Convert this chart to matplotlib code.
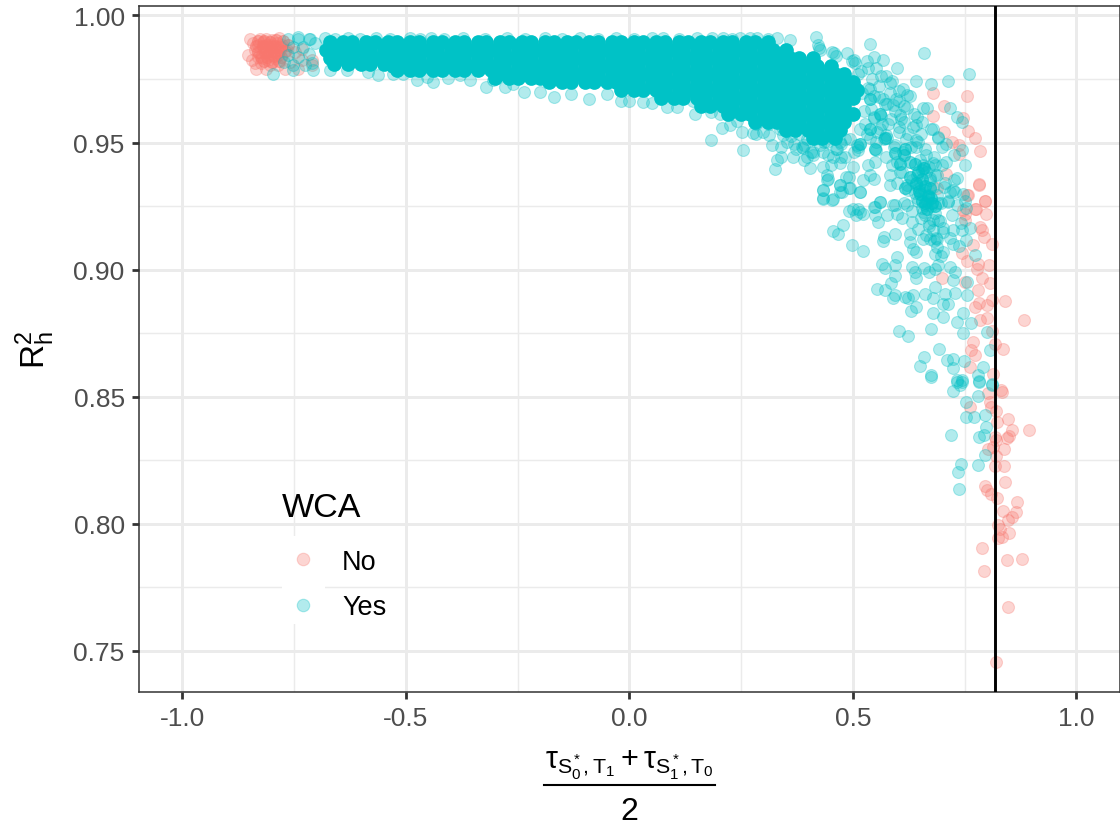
import numpy as np
import matplotlib
matplotlib.use("Agg")
import matplotlib.pyplot as plt
from matplotlib.lines import Line2D
from matplotlib.patches import Rectangle

plt.rcParams['font.family'] = ['Liberation Sans', 'DejaVu Sans']
plt.rcParams['mathtext.fontset'] = 'custom'
plt.rcParams['mathtext.rm'] = 'Liberation Sans'
plt.rcParams['mathtext.it'] = 'Liberation Sans'
plt.rcParams['axes.unicode_minus'] = False

# WCA = No
no_x = [.833, .801, .807, .808, .762, .820, .846, .823, .855, .893, .850, .844, .818, .821, .814, .803, .838, .821, .838, .818,
        .839, .795, .799, .808, .823, .868, .864, .836, .856, .846, .825, .829, .848, .833, .825, .789, .844, .877, .794, .846, .819,
        .783, .795, .797, .756, .775, .751, .751, .784, .788, .793, .810, .769, .743, .754, .779, .805, .777, .698, .788,
        .806, .751, .780, .810, .840, .799, .783, .773, .799, .784, .883, .810, .818, .835, .769, .765, .773, .762, .814, .832,
        .680, .704, .754, .680, .704, .745, .758, .773, .721, .738, .737, .784, .708, .687, .783, .758, .795, .773, .747,
        -.849, -.853, -.843, -.845, -.838, -.836, -.813, -.827, -.813, -.783, -.830, -.819, -.804, -.789, -.778, -.827, -.812, -.797,
        -.782, -.823, -.808, -.793, -.819, -.800, -.830, -.838, -.812, -.797, -.786, -.767, -.748, -.733, -.804, -.786, -.760, -.741,
        -.711, -.733, -.711, -.771, -.806, -.825]
no_y = [.8519, .8512, .8479, .8459, .8459, .8444, .8411, .8400, .8370, .8368, .8345, .8337, .8341, .8328, .8302, .8293, .8293, .8267, .8227, .8225,
        .8164, .8148, .8134, .8118, .8101, .8085, .8046, .8049, .8026, .8013, .7994, .7980, .7961, .7948, .7944, .7903, .7857, .7862, .7812, .7672, .7455,
        .9334, .9269, .9220, .9295, .9237, .9220, .9194, .9168, .9155, .9128, .9102, .9096, .9067, .9033, .9023, .9017, .9001, .8968, .8967,
        .8945, .8951, .8918, .8879, .8875, .8859, .8870, .8853, .8809, .8800, .8803, .8757, .8708, .8686, .8715, .8682, .8662, .8617, .8588, .8525,
        .9693, .9645, .9683, .9605, .9540, .9595, .9546, .9519, .9503, .9492, .9453, .9466, .9376, .9322, .9335, .9293, .9269, .9240, .9234,
        .9907, .9846, .9890, .9824, .9811, .9791, .9791, .9909, .9909, .9912, .9883, .9876, .9883, .9890, .9883, .9857, .9857, .9857,
        .9863, .9831, .9824, .9831, .9896, .9903, .9837, .9863, .9883, .9876, .9844, .9863, .9857, .9870, .9804, .9804, .9817, .9791,
        .9824, .9824, .9804, .9791, .9844, .9811]
no_core_x = [-.832, -.818, -.804, -.790, -.776, -.835, -.821, -.807, -.793, -.779, -.765, -.832, -.816, -.801, -.786, -.771,
             -.825, -.810, -.795, -.780, -.818, -.800, -.785]
no_core_y = [.9898, .9901, .9897, .9902, .9899, .9878, .9881, .9876, .9880, .9877, .9882, .9858, .9855, .9860, .9856, .9859,
             .9838, .9835, .9840, .9836, .9820, .9818, .9822]

# WCA = Yes, the points that can be told apart
yes_x = [.434, .434, .452, .441, .471, .475, .493, .516, .490, .507, .516, .523, .478, .456, .467, .498, .523, .557, .549, .549,
         .560, .575, .594, .598, .609, .620, .631, .646, .657, .680, .594, .569, .568, .628, .628, .635, .641, .657, .672, .687,
         .702, .724, .743, .687, .724, .753, .683, .702, .691, .717, .728, .773, .564, .572, .598, .594, .594, .631, .639, .641,
         .659, .669, .724, .586, .553, .572, .590, .594, .616, .624, .635, .661, .683, .680, .706, .728, .754, .754, .642, .629,
         .680, .702, .713, .702, .732, .747, .763, .745, .604, .622, .674, .693, .659, .650, .674, .710, .723, .723, .749, .790,
         .780, .783, .732, .743, .810, .806, .799,
         .674, .743, .732, .782, .810, .724, .739, .779, .752, .752, .771, .795, .797, .719, .782, .793, .795, .742, .780, .734, .738,
         .417, .537, .659, .760, .713, .675, .640, .568, .548, .182, .255, .326, .329, .365, .404, .344, .434, .441, .445, .484,
         .471, .471, .434, .434, .455, .490, .516, .523, .538, .546, .549, .501, .471, .456, .396, .340, .318, .311, .277, .251,
         .206, .225, .147, .106, .083, .050, .031, .751, .732, .743, .725, .698, .743, .732, .717, .665, .657, .680, .691, .683,
         .642, .605, .620, .598, .505, .486, .452, .426, .359, .329, .285, .247, .210, .184, .076, .717, .728, .747, .751, .713,
         .665, .620, .590, .560, .501, .512, .546, .642, .605, .657, .680, .583, .598, .628, .613, .560, .575, .642, .613, .590,
         .568, .546, .538, .508, .516, .471, .441, .389, .367, .411, .367, .337, .299, .232, .262,
         -.797, -.763, -.741, -.718, -.752, -.730, -.763, -.741, -.718, -.752, -.726, -.774, -.711, -.703,
         -.752, -.707, -.670, -.633, -.584, -.562, -.528, -.506, -.476, -.454, -.439, -.405, -.379, -.357, -.320, -.305, -.279, -.260, -.237,
         -.200, -.170, -.130, -.090, -.050, -.020, .000,
         -.741, -.715, -.681, -.659, -.629, -.603, -.566, -.536, -.491, -.469, -.443, -.416, -.372, -.323, -.275, -.234,
         -.190, -.150, -.110, -.070, -.030, .010, .050, .110, .150, .230, .270, .310]
yes_y = [.9312, .9279, .9275, .9351, .9332, .9306, .9319, .9306, .9229, .9214, .9227, .9220, .9174, .9151, .9141, .9096, .9072, .9187, .9214, .9246,
         .9266, .9214, .9253, .9220, .9201, .9253, .9187, .9161, .9227, .9194, .9138, .9128, .9113, .9138, .9109, .9082, .9069, .9122, .9122, .9122,
         .9148, .9155, .9155, .9089, .9102, .9115, .9063, .9069, .9017, .9010, .8991, .9056, .9023, .9006, .9050, .9017, .8975, .9010, .8991, .8967,
         .9006, .8991, .8958, .8945, .8925, .8918, .8886, .8899, .8892, .8886, .8899, .8905, .8931, .8886, .8905, .8909, .8899, .8951, .8853, .8836,
         .8830, .8866, .8866, .8813, .8794, .8830, .8790, .8752, .8757, .8739, .8765, .8686, .8656, .8620, .8584, .8645, .8649, .8613, .8639, .8617,
         .8584, .8560, .8564, .8564, .8547, .8682, .8754,
         .8578, .8558, .8558, .8558, .8549, .8521, .8545, .8503, .8479, .8420, .8420, .8429, .8381, .8350, .8340, .8348, .8269, .8236, .8232, .8204, .8135,
         .9914, .9887, .9851, .9769, .9743, .9732, .9743, .9824, .9837, .9509, .9470, .9394, .9431, .9444, .9398, .9529, .9404, .9372, .9358, .9365,
         .9332, .9306, .9313, .9280, .9276, .9322, .9306, .9352, .9372, .9358, .9424, .9404, .9418, .9444, .9444, .9444, .9490, .9529, .9536, .9542,
         .9559, .9568, .9614, .9641, .9641, .9654, .9660, .9411, .9362, .9470, .9450, .9483, .9582, .9601, .9634, .9634, .9634, .9555, .9516, .9411,
         .9509, .9608, .9687, .9792, .9811, .9851, .9857, .9864, .9903, .9912, .9912, .9910, .9912, .9912, .9912, .9306, .9306, .9299, .9269, .9267,
         .9267, .9332, .9253, .9267, .9240, .9240, .9247, .9332, .9385, .9398, .9418, .9332, .9424, .9424, .9450, .9555, .9516, .9568, .9582, .9647,
         .9673, .9595, .9516, .9490, .9555, .9503, .9503, .9477, .9496, .9463, .9555, .9555, .9542, .9621, .9634,
         .9771, .9909, .9916, .9909, .9876, .9876, .9844, .9837, .9850, .9804, .9804, .9817, .9811, .9890,
         .9785, .9785, .9785, .9785, .9778, .9765, .9768, .9768, .9745, .9758, .9739, .9752, .9765, .9745, .9719, .9745, .9719, .9732, .9699,
         .9700, .9680, .9690, .9672, .9690, .9665, .9665,
         .9909, .9909, .9912, .9909, .9912, .9909, .9912, .9909, .9912, .9909, .9912, .9909, .9912, .9909, .9912, .9909,
         .9912, .9909, .9912, .9909, .9912, .9909, .9912, .9909, .9912, .9909, .9912, .9909]

# WCA = Yes, the crowded part right of and under the band: estimated
busy_x = [.531, .552, .574, .588, .612, .628, .519, .543, .558, .583, .604, .621, .644, .534, .548, .571, .593, .607, .634, .652,
          .541, .563, .579, .602, .618, .641, .663, .527, .554, .569, .592, .613, .627, .654, .672, .551, .573, .587, .609, .633,
          .648, .668, .691, .684, .661, .643, .622, .598, .583, .703, .712, .694, .671, .653, .631, .614, .682, .664, .701, .722,
          .718, .697, .683, .733, .741, .708, .726, .752, .761, .738,
          .203, .241, .283, .312, .338, .362, .391, .413, .432, .451, .473, .492, .511, .533, .442, .481, .402, .353, .304, .262,
          .221, .183, .142, .104, .423, .462, .503, .441, .382, .463, .342, .284,
          .422, .458, .497, .511, .534, .562, .583, .604,
          .521, .539, .558, .576, .597, .615, .636, .655, .674, .691, .707, .525, .546, .566, .585, .603, .624, .646, .662, .681,
          .699, .532, .551, .573, .594, .611, .629, .651, .669, .688, .706, .724, .379, .398, .417, .436, .455, .474, .493, .512,
          .386, .407, .426, .445, .464, .483, .502, .353, .372, .391, .410, .656, .664, .672, .680, .688, .696, .643, .651, .659,
          .667, .675, .683, .691, .638, .646, .654, .662, .670, .678, .686]
busy_y = [.9821, .9793, .9762, .9741, .9712, .9683, .9782, .9751, .9723, .9694, .9662, .9634, .9601, .9713, .9682, .9652, .9623, .9592, .9561, .9533,
          .9631, .9604, .9573, .9542, .9513, .9482, .9451, .9574, .9541, .9512, .9483, .9452, .9423, .9391, .9362, .9472, .9441, .9412, .9383, .9354,
          .9321, .9293, .9262, .9371, .9254, .9283, .9312, .9341, .9372, .9323, .9271, .9192, .9171, .9204, .9232, .9263, .9113, .9134, .9162, .9213,
          .9124, .9053, .9004, .9253, .9183, .9422, .9352, .9242, .9162, .9092,
          .9612, .9583, .9534, .9571, .9483, .9524, .9433, .9512, .9461, .9413, .9442, .9364, .9472, .9413, .9551, .9513, .9573, .9582, .9623, .9644,
          .9672, .9621, .9663, .9692, .9871, .9842, .9823, .9784, .9561, .9474, .9562, .9571,
          .9883, .9854, .9822, .9771, .9793, .9761, .9733, .9701,
          .9693, .9711, .9681, .9653, .9672, .9642, .9611, .9582, .9553, .9521, .9494, .9623, .9601, .9572, .9594, .9561, .9532, .9503, .9474, .9443,
          .9412, .9532, .9503, .9531, .9492, .9464, .9481, .9431, .9404, .9372, .9341, .9312, .9532, .9513, .9541, .9502, .9523, .9493, .9512, .9483,
          .9481, .9463, .9492, .9452, .9474, .9443, .9462, .9503, .9474, .9492, .9451, .9413, .9382, .9351, .9323, .9294, .9261, .9372, .9341, .9313,
          .9284, .9252, .9223, .9194, .9302, .9271, .9243, .9213, .9182, .9154, .9123]

# WCA = Yes, thousands of stacked points that merge into one solid band:
# not readable one by one, so the band is drawn from opaque points along rows
core_levels = [.9897, .9866, .9834, .9810, .9803, .9785, .9771, .9755, .9740, .9708, .9677, .9645, .9614, .9582, .9551, .9519]
core_rows = [
    [-.67, -.64, -.62, -.59, -.57, -.54, -.52, -.49, -.47, -.44, -.42, -.39, -.37, -.34, -.32, -.29, -.27, -.24, -.22, -.19, -.17, -.14, -.12, -.09, -.07, -.04, -.02, .01, .03, .06, .08, .11, .13, .16, .18, .21, .23, .26, .28, .31],
    [-.68, -.65, -.63, -.60, -.58, -.55, -.53, -.50, -.48, -.45, -.43, -.40, -.38, -.35, -.33, -.30, -.28, -.25, -.23, -.20, -.18, -.15, -.13, -.10, -.08, -.05, -.03, .00, .02, .05, .07, .10, .12, .15, .17, .20, .22, .25, .27, .30, .32, .35],
    [-.67, -.64, -.62, -.59, -.57, -.54, -.52, -.49, -.47, -.44, -.42, -.39, -.37, -.34, -.32, -.29, -.27, -.24, -.22, -.19, -.17, -.14, -.12, -.09, -.07, -.04, -.02, .01, .03, .06, .08, .11, .13, .16, .18, .21, .23, .26, .28, .31, .33, .36, .38, .41],
    [-.66, -.63, -.60, -.58, -.55],
    [-.53, -.50, -.48, -.45, -.43, -.40, -.38, -.35, -.33, -.30, -.28, -.25, -.23, -.20, -.18, -.15, -.13, -.10, -.08, -.05, -.03, .00, .02, .05, .07, .10, .12, .15, .17, .20, .22, .25, .27, .30, .32, .35, .37, .40, .42, .45],
    [-.52, -.49, -.47, -.44, -.42, -.39, -.37, -.34, -.31],
    [-.29, -.27, -.24, -.22, -.19, -.17, -.14, -.12, -.09, -.07, -.04, -.02, .01, .03, .06, .08, .11, .13, .16, .18, .21, .23, .26, .28, .31, .33, .36, .38, .41, .43, .46, .48],
    [-.30, -.27, -.25, -.22, -.20],
    [-.18, -.15, -.13, -.10, -.08, -.05, -.03, .00, .02, .05, .07, .10, .12, .15, .17, .20, .22, .25, .27, .30, .32, .35, .37, .40, .42, .45, .47, .50],
    [-.02, .01, .03, .06, .08, .11, .13, .16, .18, .21, .23, .26, .28, .31, .33, .36, .38, .41, .43, .46, .48, .51],
    [.07, .10, .12, .15, .17, .20, .22, .25, .27, .30, .32, .35, .37, .40, .42, .45, .47, .50],
    [.16, .18, .21, .23, .26, .28, .31, .33, .36, .38, .41, .43, .46, .48],
    [.22, .25, .27, .30, .32, .35, .37, .40, .42, .45, .47, .50],
    [.28, .31, .33, .36, .38, .41, .43, .46, .48],
    [.35, .37, .40, .42, .45, .47],
    [.41, .43, .46],
]
cluster_x = [.594, .616, .605, .639, .627, .654, .672, .650, .677, .661, .616, .538, .560, .538, .572, .549, .516,
             .640, .648, .660, .668, .655, .666, .675, .683, .645, .658]
cluster_y = [.9457, .9476, .9417, .9417, .9366, .9358, .9319, .9299, .9260, .9260, .9319, .9673, .9614, .9555, .9516, .9476, .9496,
             .9340, .9310, .9330, .9290, .9270, .9240, .9280, .9250, .9385, .9400]

threshold = 0.8177
xticks = [-1.0, -0.5, 0.0, 0.5, 1.0]
xticks_minor = [-0.75, -0.25, 0.25, 0.75]
yticks = [0.75, 0.80, 0.85, 0.90, 0.95, 1.00]
yticks_minor = [0.775, 0.825, 0.875, 0.925, 0.975]

RED = '#F8766D'
TEAL = '#00BFC4'
SOLID = '#00C2C6'
MARKER = dict(s=74, alpha=0.3, linewidths=0.8)

fig = plt.figure(figsize=(11.2, 8.28), dpi=100)
ax = fig.add_axes([139 / 1120, (828 - 693) / 828, 980.5 / 1120, 686.5 / 828])

core_x = [x for row in core_rows for x in row]
core_y = [lev for lev, row in zip(core_levels, core_rows) for x in row]

ax.scatter(no_x, no_y, color=RED, zorder=3, **MARKER)
ax.scatter(no_core_x, no_core_y, color=RED, s=74, linewidths=0.8, alpha=0.5, zorder=3)
ax.scatter(yes_x, yes_y, color=TEAL, zorder=4, **MARKER)
ax.scatter(busy_x, busy_y, color=TEAL, zorder=4, **MARKER)
ax.scatter(cluster_x, cluster_y, color=SOLID, s=74, linewidths=0.8, alpha=0.6, zorder=5)
ax.scatter(core_x, core_y, color=SOLID, s=112, linewidths=0, zorder=5)
ax.axvline(threshold, color='black', lw=2.1, zorder=6)

ax.set_xlim(-1.0973, 1.0962)
ax.set_ylim(0.7337, 1.00393)
ax.set_xticks(xticks)
ax.set_xticklabels(['%.1f' % t for t in xticks])
ax.set_xticks(xticks_minor, minor=True)
ax.set_yticks(yticks)
ax.set_yticklabels(['%.2f' % t for t in yticks])
ax.set_yticks(yticks_minor, minor=True)

ax.set_axisbelow(True)
ax.grid(which='major', color='#EBEBEB', lw=2.1)
ax.grid(which='minor', color='#EBEBEB', lw=1.05)
ax.tick_params(which='minor', length=0)
ax.tick_params(which='major', length=5.3, width=2.0, color='#333333', labelcolor='#4D4D4D', labelsize=19, pad=5)
for s in ax.spines.values():
    s.set_color('#333333')
    s.set_linewidth(1.1)

ax.set_ylabel(r'$\mathrm{R}_{\mathrm{h}}^{2}$', fontsize=24, labelpad=12)

# x axis label as a hand-stacked fraction, so the bar and the 2 sit where they should
fig.text(629.5 / 1120, 1 - 765 / 828, r'$\tau_{\mathrm{S}_0^*,\mathrm{T}_1}+\tau_{\mathrm{S}_1^*,\mathrm{T}_0}$',
         fontsize=22, ha='center', va='center', color='black')
fig.add_artist(Line2D([544 / 1120, 715 / 1120], [1 - 786 / 828, 1 - 786 / 828], color='black', lw=1.5))
fig.text(629.5 / 1120, 1 - 812 / 828, '2', fontsize=23, ha='center', va='center', color='black')

# legend keys sit on white squares that cut the grid
ax.add_patch(Rectangle((282, 828 - 625), 43, 88, transform=None, fc='white', ec='none', zorder=1.5))
handles = [Line2D([], [], ls='', marker='o', ms=9, mew=0.8, color=RED, alpha=0.3, label='No'),
           Line2D([], [], ls='', marker='o', ms=9, mew=0.8, color=TEAL, alpha=0.3, label='Yes')]
leg = ax.legend(handles=handles, title='WCA', frameon=False, loc='lower left', bbox_to_anchor=(0.1458, 0.1044),
                fontsize=19.5, title_fontsize=24.5, alignment='left', labelspacing=0.72, handlelength=1.56,
                handletextpad=0.66, borderpad=0, borderaxespad=0)
leg._legend_box.sep = 18.5

fig.savefig('out.png', dpi=100)
